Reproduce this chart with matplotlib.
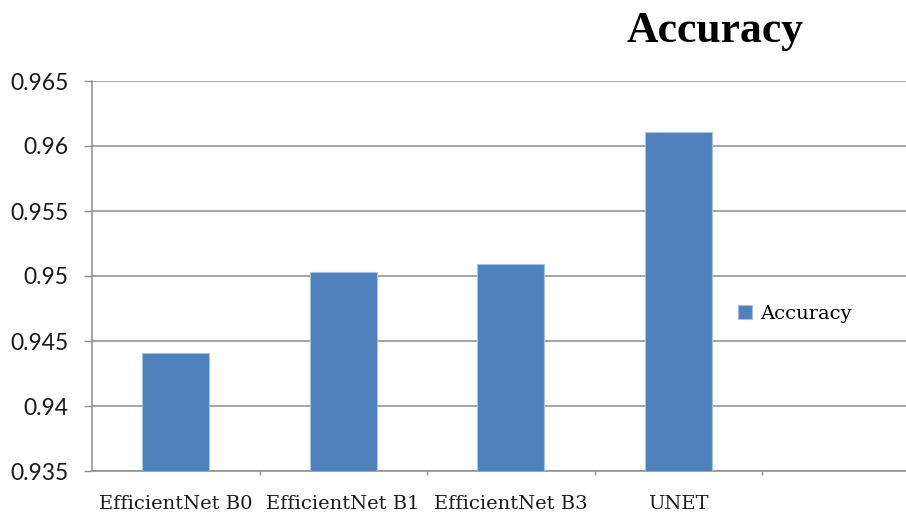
import matplotlib
matplotlib.use("Agg")
from matplotlib import pyplot as plt

# chart data
models = ["EfficientNet B0", "EfficientNet B1", "EfficientNet B3", "UNET"]
accuracy = [0.9441, 0.9503, 0.9509, 0.9611]
y_ticks = [0.935, 0.94, 0.945, 0.95, 0.955, 0.96, 0.965]
y_tick_labels = ["0.935", "0.94", "0.945", "0.95", "0.955", "0.96", "0.965"]
series_name = "Accuracy"

bar_color = "#4f81bd"
grid_color = "#8c8c8c"

fig = plt.figure(figsize=(9.06, 5.15), dpi=100)
ax = fig.add_axes([92 / 906, 44 / 515, 1 - 92 / 906, 390 / 515])

positions = list(range(len(models)))
ax.bar(positions, accuracy, width=0.4, color=bar_color, edgecolor="#a9c1e0",
       linewidth=0.8, label=series_name, zorder=3)

# one empty slot on the right, cut by the picture edge as in the original
ax.set_xlim(-0.5, -0.5 + (906 - 92) / 167.5)
ax.set_ylim(0.935, 0.965)

ax.set_yticks(y_ticks)
ax.set_yticklabels(y_tick_labels, family="Lato", fontsize=16.5, color="#1a1a1a")
ax.tick_params(axis="y", length=6, width=1.0, color=grid_color, pad=11)

ax.set_xticks(positions)
ax.set_xticklabels(models, family="DejaVu Serif", fontsize=14, color="#1a1a1a")
ax.set_xticks([p + 0.5 for p in positions], minor=True)
ax.tick_params(axis="x", which="major", length=0, pad=17)
ax.tick_params(axis="x", which="minor", length=3, width=1.0, color=grid_color)

ax.yaxis.grid(True, color=grid_color, linewidth=1.1, zorder=0)
ax.set_axisbelow(True)
for side in ("top", "right"):
    ax.spines[side].set_visible(False)
for side in ("left", "bottom"):
    ax.spines[side].set_color(grid_color)
    ax.spines[side].set_linewidth(1.1)

fig.text(715 / 906, 1 - 31 / 515, "Accuracy", family="Liberation Serif",
         fontweight="bold", fontsize=31.5, ha="center", va="center")

ax.legend(loc="center left", bbox_to_anchor=((730 - 92) / 814, (471 - 314) / 390),
          frameon=False, handlelength=0.75, handleheight=0.75, handletextpad=0.4,
          prop={"family": "DejaVu Serif", "size": 14}, borderaxespad=0)

plt.savefig("out.png", dpi=100)
